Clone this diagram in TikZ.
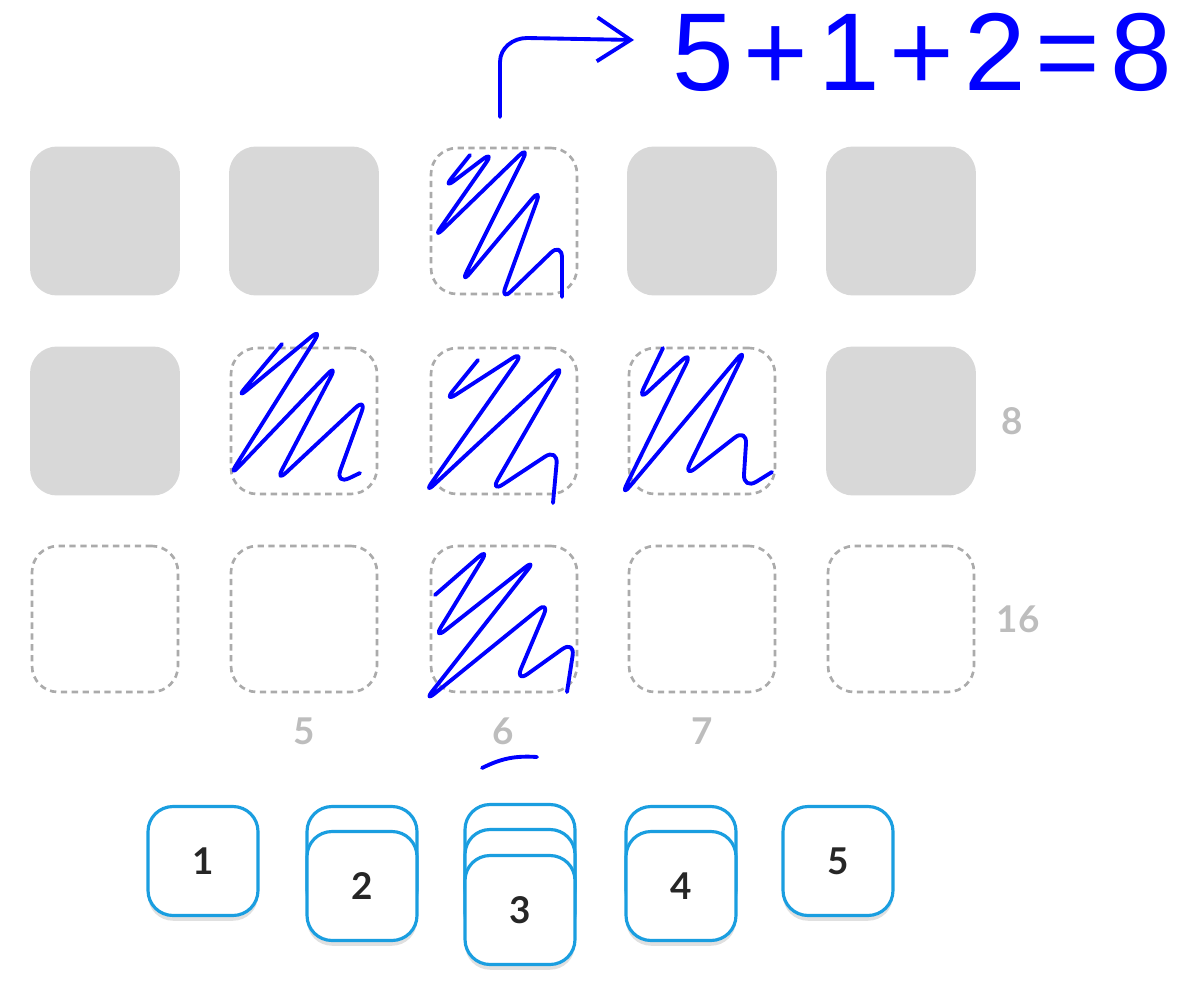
\documentclass[tikz,border=0pt]{standalone}
\usepackage{fontspec}
\setmainfont{Lato}
\newfontfamily\handfont{Liberation Sans}
\usetikzlibrary{arrows.meta,shadows}
\definecolor{tilegray}{HTML}{D8D8D8}
\definecolor{dashgray}{HTML}{ABABAB}
\definecolor{labelgray}{HTML}{BDBDBD}
\definecolor{cardblue}{HTML}{1A9EE0}
\definecolor{inkblue}{HTML}{0000FF}
\tikzset{
    tile/.style ={
        rectangle,
        rounded corners =0.54cm,
        minimum width =3cm,
        minimum height =2.98cm,
        inner sep=0pt,
        fill=tilegray
    },
    slot/.style ={
        rectangle,
        rounded corners =0.52cm,
        minimum width =2.92cm,
        minimum height =2.92cm,
        inner sep=0pt,
        draw=dashgray,
        line width=1.5pt,
        dash pattern=on 3.6pt off 2.6pt
    },
    card/.style ={
        rectangle,
        rounded corners =0.5cm,
        minimum width =2.2cm,
        minimum height =2.18cm,
        inner sep=0pt,
        draw=cardblue,
        line width=1.8pt,
        fill=white,
        drop shadow={shadow xshift=0pt, shadow yshift=-3pt, opacity=0.12, fill=black},
        font=\bfseries\fontsize{21}{24}\selectfont,
        text=black!85
    },
    graylabel/.style ={
        font=\bfseries\fontsize{21}{24}\selectfont,
        text=labelgray
    },
    scribble/.style ={
        draw=inkblue,
        line width=2.2pt,
        line cap=round,
        line join=round,
        rounded corners=9pt
    }
}
\begin{document}
\begin{tikzpicture}[x=0.02cm,y=-0.02cm]
        \useasboundingbox (0,0) rectangle (1200,1004);

        % grid
        \node[tile] (T11) at(105,221) {};
        \node[tile] (T12) at(304,221) {};
        \node[slot] (T13) at(504,221) {};
        \node[tile] (T14) at(702,221) {};
        \node[tile] (T15) at(901,221) {};
        \node[tile] (T21) at(105,421) {};
        \node[slot] (T22) at(304,421) {};
        \node[slot] (T23) at(504,421) {};
        \node[slot] (T24) at(702,421) {};
        \node[tile] (T25) at(901,421) {};
        \node[slot] (T31) at(105,619) {};
        \node[slot] (T32) at(304,619) {};
        \node[slot] (T33) at(504,619) {};
        \node[slot] (T34) at(702,619) {};
        \node[slot] (T35) at(901,619) {};

        \node[graylabel] (ROW2) at(1012,421) {8};
        \node[graylabel] (ROW3) at(1018,619) {16};
        \node[graylabel] (COL2) at(304,731) {5};
        \node[graylabel] (COL3) at(503,731) {6};
        \node[graylabel] (COL4) at(702,731) {7};

        % cards
        \node[card] (C1) at(203,861) {1};
        \node[card] (C2A) at(362,861) {};
        \node[card] (C2) at(362,886) {2};
        \node[card] (C3A) at(520,859) {};
        \node[card] (C3B) at(520,884) {};
        \node[card] (C3) at(520,910) {3};
        \node[card] (C4A) at(681,861) {};
        \node[card] (C4) at(681,886) {4};
        \node[card] (C5) at(838,861) {5};

        % ink
        \draw[scribble] (470,155)--(442,190)--(495,150)--(432,240)--(530,145)--(460,285)--(542,187)--(500,302)--(562,242)--(562,297);
        \draw[scribble] (282,344)--(235,400)--(323,327)--(228,478)--(338,363)--(275,483)--(367,397)--(335,485)--(360,473);
        \draw[scribble] (478,360)--(443,403)--(525,350)--(423,495)--(565,363)--(490,493)--(558,448)--(553,503);
        \draw[scribble] (663,348)--(637,402)--(693,350)--(620,498)--(747,347)--(683,478)--(747,428)--(743,490)--(772,472);
        \draw[scribble] (435,595)--(490,547)--(433,640)--(537,558)--(423,703)--(550,600)--(515,683)--(575,640)--(567,692);
        \draw[scribble] (482,768) to[bend left=15] (537,757);

        \coordinate (ARRS) at(500,117);
        \coordinate (ARRE) at(634,40);
        \node[anchor=base west, inner sep=0pt, text=inkblue, font=\handfont\fontsize{63}{70}\selectfont] (SUM) at(672,90) {5\hspace{0.09em}+\hspace{0.09em}1\hspace{0.09em}+\hspace{0.09em}2\hspace{0.09em}=\hspace{0.09em}8};
        \draw[scribble, rounded corners=0pt, -{Straight Barb[length=19pt,width=25pt,line width=2.2pt]}] (ARRS)--(500,62) to[out=90,in=180] (527,38)--(ARRE);
    \end{tikzpicture}
\end{document}
